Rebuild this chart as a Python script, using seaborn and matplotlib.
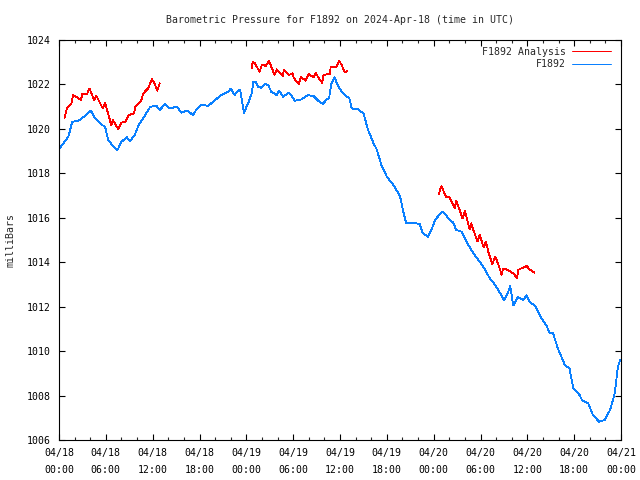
import matplotlib
matplotlib.use("Agg")
import matplotlib.pyplot as plt
import seaborn as sns
import pandas as pd
from matplotlib.lines import Line2D
from matplotlib.ticker import MultipleLocator

# ---- data (hours since 2024-04-18 00:00 UTC, pressure in mb) ----
obs_hours = [0.1, 1.2, 1.7, 2.5, 3.3, 4.1, 4.6, 5.5, 5.9, 6.3, 7.0, 7.5, 8.0, 8.7, 9.1, 9.7,
             10.2, 10.8, 11.7, 12.5, 12.9, 13.6, 14.2, 15.1, 15.7, 16.4, 17.2, 17.6, 18.3,
             19.1, 20.0, 20.8, 21.7, 22.0, 22.5, 23.0, 23.2, 23.7, 24.3, 24.7, 24.9, 25.2,
             25.5, 25.9, 26.4, 26.8, 27.2, 27.9, 28.2, 28.7, 29.5, 30.2, 30.9, 31.9, 32.6,
             33.2, 33.8, 34.3, 34.6, 34.9, 35.3, 35.6, 36.2, 36.6, 37.2, 37.5, 38.3, 39.0,
             39.6, 40.3, 40.7, 41.3, 42.0, 43.0, 43.7, 44.2, 44.5, 45.2, 46.2, 46.6, 47.3,
             47.7, 48.2, 48.7, 49.2, 49.9, 50.5, 50.9, 51.6, 52.2, 53.1, 53.9, 54.6, 55.2,
             55.9, 56.5, 57.0, 57.4, 57.8, 58.2, 58.8, 59.5, 59.9, 60.3, 61.0, 61.8, 62.4,
             62.9, 63.3, 63.9, 64.8, 65.4, 65.9, 66.7, 67.0, 67.8, 68.4, 69.2, 69.9, 70.6,
             71.2, 71.6, 71.9]
obs_mb = [1019.13, 1019.65, 1020.32, 1020.37, 1020.58, 1020.82, 1020.48, 1020.18, 1020.10,
          1019.50, 1019.20, 1019.05, 1019.42, 1019.62, 1019.45, 1019.73, 1020.17, 1020.48,
          1021.00, 1021.03, 1020.85, 1021.12, 1020.92, 1021.00, 1020.73, 1020.82, 1020.62,
          1020.88, 1021.10, 1021.03, 1021.30, 1021.52, 1021.67, 1021.82, 1021.52, 1021.75,
          1021.75, 1020.73, 1021.22, 1021.60, 1022.12, 1022.12, 1021.90, 1021.85, 1022.02,
          1021.97, 1021.67, 1021.52, 1021.72, 1021.45, 1021.63, 1021.27, 1021.30, 1021.52,
          1021.48, 1021.27, 1021.12, 1021.33, 1021.38, 1022.05, 1022.32, 1022.05, 1021.67,
          1021.52, 1021.38, 1020.92, 1020.88, 1020.70, 1019.95, 1019.35, 1019.08, 1018.38,
          1017.85, 1017.40, 1016.95, 1016.13, 1015.75, 1015.78, 1015.72, 1015.30, 1015.15,
          1015.45, 1015.90, 1016.13, 1016.28, 1015.97, 1015.78, 1015.45, 1015.37, 1014.92,
          1014.40, 1014.02, 1013.65, 1013.27, 1012.97, 1012.62, 1012.30, 1012.52, 1012.93,
          1012.05, 1012.43, 1012.30, 1012.52, 1012.20, 1012.04, 1011.47, 1011.18, 1010.80,
          1010.80, 1010.13, 1009.38, 1009.22, 1008.33, 1008.02, 1007.80, 1007.65, 1007.13,
          1006.82, 1006.90, 1007.35, 1008.10, 1009.30, 1009.60]

ana_hours = [0.7, 1.0, 1.6, 1.8, 2.5, 2.8, 3.0, 3.6, 3.9, 4.5, 4.8, 5.6, 5.9, 6.1, 6.7, 6.9,
             7.6, 8.0, 8.5, 8.9, 9.6, 9.8, 10.5, 10.8, 11.4, 11.9, 12.2, 12.6, 12.9,
             24.7, 24.8, 25.1, 25.7, 26.0, 26.5, 26.9, 27.2, 27.6, 27.9, 28.3, 28.7, 28.8,
             29.5, 29.9, 30.1, 30.7, 31.0, 31.6, 32.0, 32.6, 32.9, 33.2, 33.7, 33.9, 34.7,
             34.8, 35.5, 35.9, 36.2, 36.6, 36.9,
             48.7, 48.8, 49.0, 49.3, 49.6, 50.0, 50.3, 50.7, 50.9, 51.7, 52.0, 52.6, 52.8,
             53.6, 53.9, 54.4, 54.7, 55.0, 55.5, 55.9, 56.1, 56.5, 56.7, 56.9, 57.5, 58.2,
             58.7, 58.8, 59.5, 59.9, 60.3, 60.9]
ana_mb = [1020.48, 1020.92, 1021.15, 1021.52, 1021.38, 1021.30, 1021.57, 1021.57, 1021.82,
          1021.30, 1021.48, 1020.92, 1021.18, 1020.92, 1020.17, 1020.40, 1019.98, 1020.28,
          1020.32, 1020.62, 1020.70, 1021.00, 1021.25, 1021.60, 1021.82, 1022.23, 1022.08,
          1021.72, 1022.05,
          1022.73, 1023.00, 1022.95, 1022.57, 1022.90, 1022.83, 1023.07, 1022.80, 1022.43,
          1022.68, 1022.50, 1022.38, 1022.65, 1022.43, 1022.50, 1022.28, 1022.02, 1022.32,
          1022.17, 1022.47, 1022.32, 1022.53, 1022.32, 1022.08, 1022.43, 1022.47, 1022.77,
          1022.77, 1023.07, 1022.88, 1022.55, 1022.60,
          1017.07, 1017.28, 1017.43, 1017.17, 1016.95, 1016.92, 1016.72, 1016.43, 1016.77,
          1015.97, 1016.32, 1015.48, 1015.75, 1014.93, 1015.22, 1014.67, 1014.93, 1014.47,
          1013.92, 1014.25, 1014.07, 1013.68, 1013.43, 1013.72, 1013.65, 1013.50, 1013.27,
          1013.65, 1013.77, 1013.83, 1013.68, 1013.53]
ana_segment = [0] * 29 + [1] * 32 + [2] * 32

x_tick_hours = [0, 6, 12, 18, 24, 30, 36, 42, 48, 54, 60, 66, 72]
x_tick_labels = ["04/18\n00:00", "04/18\n06:00", "04/18\n12:00", "04/18\n18:00",
                 "04/19\n00:00", "04/19\n06:00", "04/19\n12:00", "04/19\n18:00",
                 "04/20\n00:00", "04/20\n06:00", "04/20\n12:00", "04/20\n18:00",
                 "04/21\n00:00"]
y_ticks = [1006, 1008, 1010, 1012, 1014, 1016, 1018, 1020, 1022, 1024]

series_labels = ["F1892 Analysis", "F1892"]
colors = ["#ff0000", "#0a80ff"]

obs = pd.DataFrame({"hour": obs_hours, "mb": obs_mb})
ana = pd.DataFrame({"hour": ana_hours, "mb": ana_mb, "seg": ana_segment})

sns.set_style("white")
plt.rcParams["font.family"] = ["DejaVu Sans Mono", "DejaVu Sans"]
plt.rcParams["font.size"] = 7.1

fig = plt.figure(figsize=(6.4, 4.8), dpi=100)
ax = fig.add_axes([59 / 640, 40 / 480, 562 / 640, 400 / 480])

LW = 0.6
sns.lineplot(data=obs, x="hour", y="mb", ax=ax, color=colors[1], linewidth=LW,
             estimator=None, sort=False, antialiased=False)
sns.lineplot(data=ana, x="hour", y="mb", units="seg", ax=ax, color=colors[0], linewidth=LW,
             estimator=None, sort=False, antialiased=False)

ax.set_xlim(0, 72)
ax.set_ylim(1006, 1024)
ax.set_xticks(x_tick_hours)
ax.set_xticklabels(x_tick_labels, linespacing=1.8)
ax.xaxis.set_minor_locator(MultipleLocator(2))
ax.set_yticks(y_ticks)
ax.set_yticklabels([str(v) for v in y_ticks])
ax.tick_params(which="major", direction="in", length=4.5, width=0.8, top=True, right=True,
               bottom=True, left=True, labelsize=7.1, colors="black", pad=6)
ax.tick_params(which="minor", direction="in", length=2.5, width=0.8, top=True, bottom=True)
for s in ax.spines.values():
    s.set_visible(True)
    s.set_color("black")
    s.set_linewidth(0.8)

ax.set_xlabel("")
ax.set_ylabel("milliBars", fontsize=7.1, labelpad=8)
ax.set_title("Barometric Pressure for F1892 on 2024-Apr-18 (time in UTC)", fontsize=7.1, pad=12)

handles = [Line2D([], [], color=colors[0], lw=0.72), Line2D([], [], color=colors[1], lw=0.72)]
ax.legend(handles, series_labels, loc="upper right", frameon=False, markerfirst=False,
          handlelength=4.0, handletextpad=0.6, labelspacing=0.25, fontsize=7.1,
          borderaxespad=0.3, bbox_to_anchor=(0.995, 1.0))

fig.savefig("out.png", dpi=100)
